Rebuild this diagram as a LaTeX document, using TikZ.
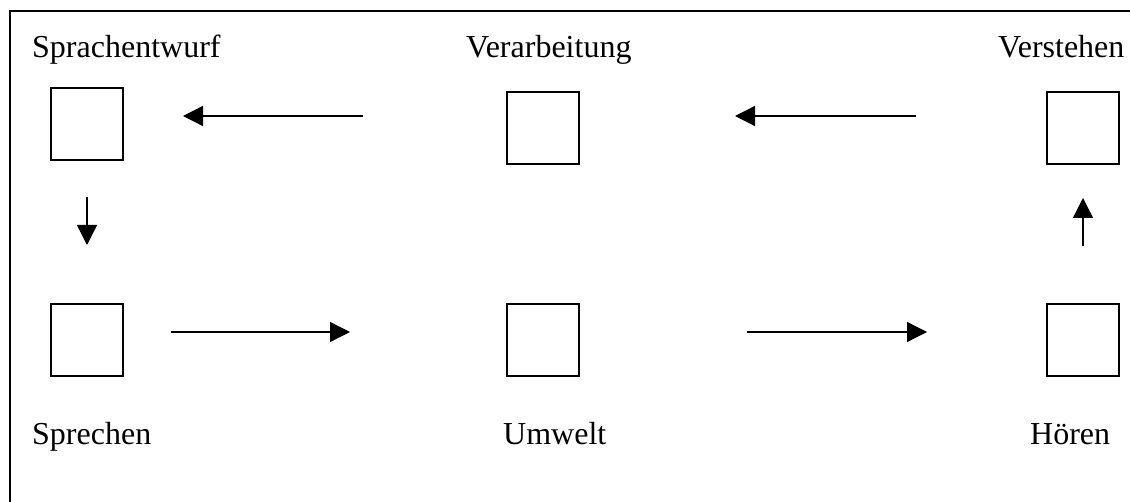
\documentclass[tikz,border=0pt]{standalone}
\usepackage{fontspec}
\setmainfont{Liberation Serif}
\usetikzlibrary{arrows.meta}
\tikzset{
  stage/.style={draw, line width=1.6pt, minimum size=72pt, inner sep=0pt},
  label/.style={anchor=base west, inner sep=0pt, font=\fontsize{32}{38}\selectfont},
  flow/.style={line width=1.3pt, -{Triangle[length=20pt,width=20pt]}},
  frame/.style={line width=2pt}
}
\begin{document}
\begin{tikzpicture}[x=1pt,y=-1pt]
  \useasboundingbox (0,0) rectangle (1130,502);
  \fill[white] (0,0) rectangle (1130,502);
  % outer frame (only top and left edges lie on the page)
  \coordinate (fbl) at (10,510);
  \coordinate (ftl) at (10,11);
  \coordinate (ftr) at (1140,11);
  \draw[frame] (fbl) -- (ftl) -- (ftr);

  % stages
  \node[stage] (entwurf)  at (87,124)  {};
  \node[stage] (verarb)   at (543,128) {};
  \node[stage] (verst)    at (1083,128) {};
  \node[stage] (sprechen) at (87,340)  {};
  \node[stage] (umwelt)   at (543,340) {};
  \node[stage] (hoeren)   at (1083,340) {};

  % labels
  \node[label] (tEntwurf)  at (32,58)   {Sprachentwurf};
  \node[label] (tVerarb)   at (466,58)  {Verarbeitung};
  \node[label] (tVerst)    at (998,58)  {Verstehen};
  \node[label] (tSprechen) at (32,444)  {Sprechen};
  \node[label] (tUmwelt)   at (503,444) {Umwelt};
  \node[label] (tHoeren)   at (1030,444) {Hören};

  % arrow end points between the stages
  \coordinate (a1s) at (363,116);  \coordinate (a1e) at (183,116);
  \coordinate (a2s) at (916,116);  \coordinate (a2e) at (735,116);
  \coordinate (a3s) at (87,197);   \coordinate (a3e) at (87,245);
  \coordinate (a4s) at (171,332);  \coordinate (a4e) at (350,332);
  \coordinate (a5s) at (747,332);  \coordinate (a5e) at (927,332);
  \coordinate (a6s) at (1083,246); \coordinate (a6e) at (1083,198);

  \draw[flow] (a1s) -- (a1e);
  \draw[flow] (a2s) -- (a2e);
  \draw[flow] (a3s) -- (a3e);
  \draw[flow] (a4s) -- (a4e);
  \draw[flow] (a5s) -- (a5e);
  \draw[flow] (a6s) -- (a6e);
\end{tikzpicture}
\end{document}
